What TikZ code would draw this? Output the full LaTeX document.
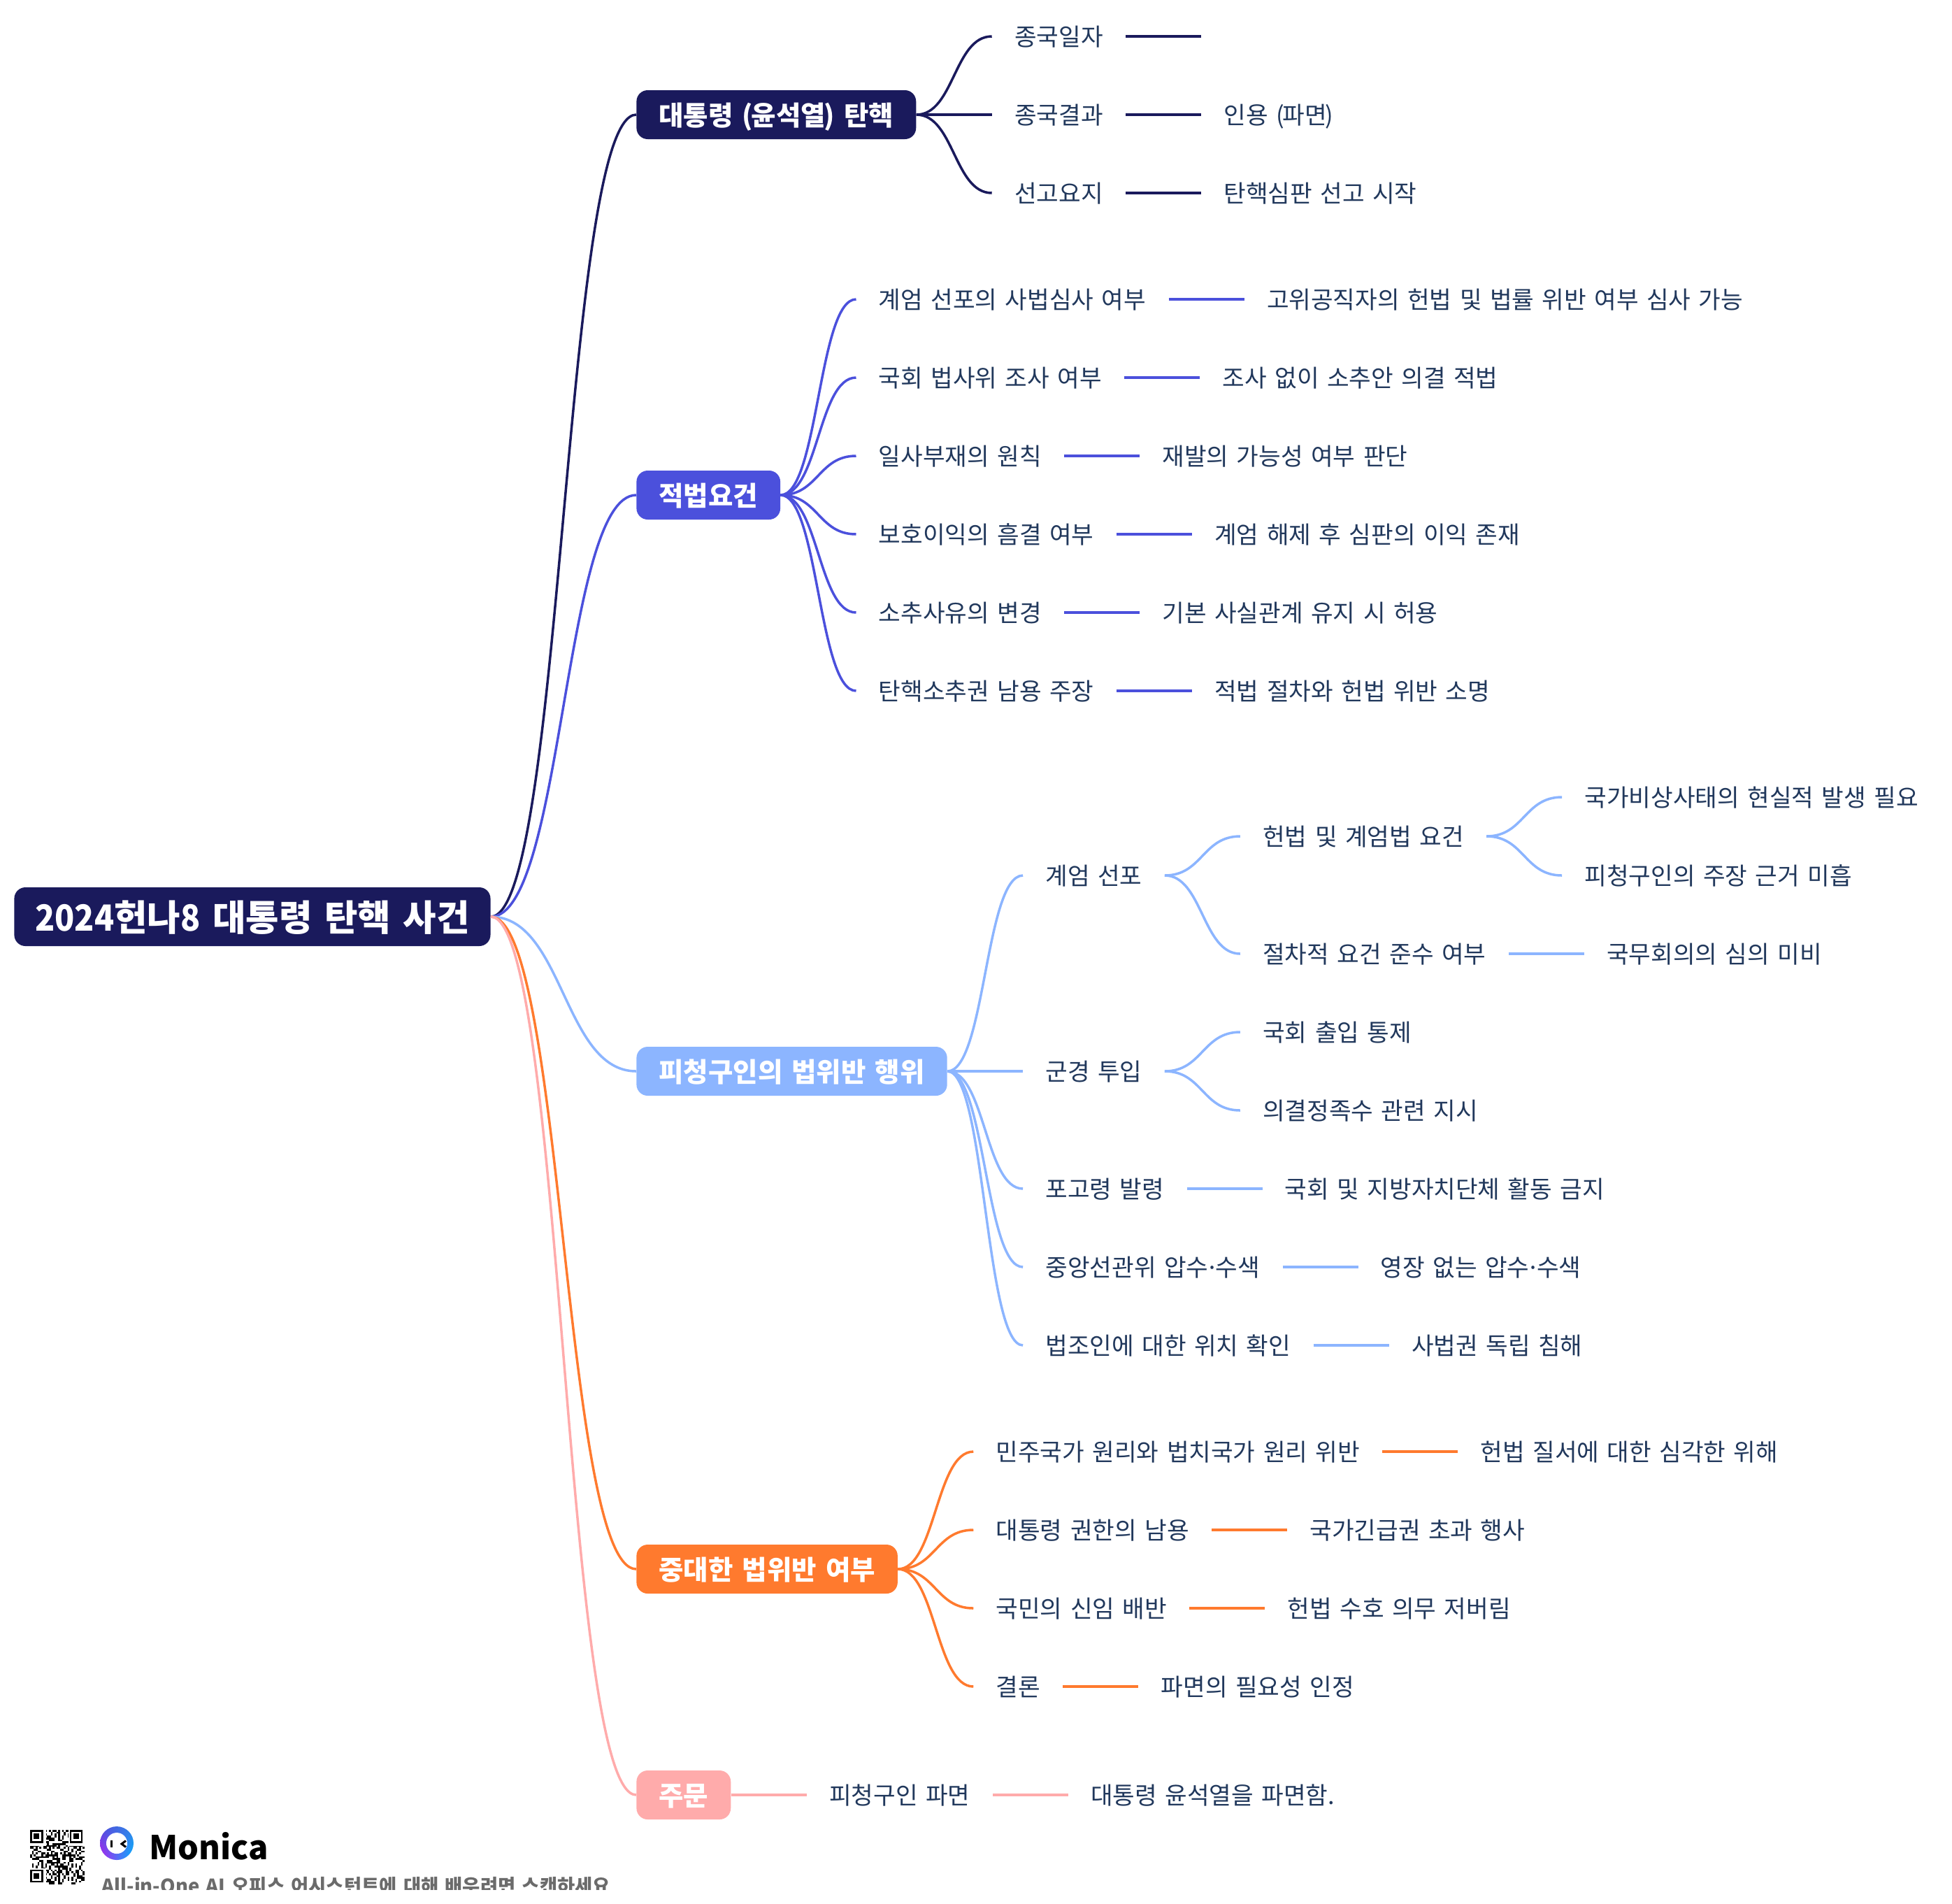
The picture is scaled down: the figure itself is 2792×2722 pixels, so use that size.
\documentclass[tikz,border=0pt]{standalone}
\usepackage{fontspec}
\setmainfont{Noto Sans CJK KR}[WordSpace=1.48]
\usetikzlibrary{calc,positioning,shadings}

\definecolor{navybranch}{HTML}{1A1A5C}
\definecolor{indigobranch}{HTML}{4B50DC}
\definecolor{bluebranch}{HTML}{8CB5FF}
\definecolor{orangebranch}{HTML}{FF7A2E}
\definecolor{pinkbranch}{HTML}{FFABAB}
\definecolor{itemtext}{HTML}{21385C}

% one px of the reference is 0.5pt here
\tikzset{
  rootnode/.style={anchor=west, fill=navybranch, text=white, rounded corners=8pt, font=\fontsize{25.8}{30}\selectfont\bfseries,
    inner xsep=15pt, inner ysep=0pt, minimum height=42pt, text height=23.8pt, text depth=3pt},
  topicnode/.style={anchor=west, fill=#1, text=white, rounded corners=8pt, font=\fontsize{19.25}{23}\selectfont\bfseries,
    inner xsep=16pt, inner ysep=0pt, minimum height=35pt, text height=17.3pt, text depth=2.2pt},
  itemnode/.style={text=itemtext, font=\fontsize{17.2}{20}\selectfont, inner xsep=16pt, inner ysep=0pt,
    text height=15.9pt, text depth=2pt},
  link/.style={line width=1.75pt}
}
\newcommand{\branch}[3]{%
  \coordinate (mid) at ($(#1.east)!.5!(#2.west)$);
  \draw[link,#3] (#1.east) .. controls (mid |- #1.east) and (mid |- #2.west) .. (#2.west);
}
\newcommand{\tightdot}{\kern-.13em·\kern-.13em}
\newcommand{\slimdigits}[1]{\scalebox{.9}[1]{#1}}
\newcommand{\tightparen}[1]{(\kern-1.1pt #1\kern-1.1pt)}

\begin{document}
\begin{tikzpicture}[x=0.5pt, y=-0.5pt, node distance=54pt]
  \useasboundingbox (0,0) rectangle (2792,2722);

  % Root and main topics
  \node[rootnode] (root) at (20,1311) {\slimdigits{2024}헌나\slimdigits{8} 대통령 탄핵 사건};
  \node[topicnode=navybranch]   (impeach) at (910,164)  {대통령 \tightparen{윤석열} 탄핵};
  \node[topicnode=indigobranch] (legal)   at (910,708)  {적법요건};
  \node[topicnode=bluebranch]   (breach)  at (910,1532) {피청구인의 법위반 행위};
  \node[topicnode=orangebranch] (grave)   at (910,2244) {중대한 법위반 여부};
  \node[topicnode=pinkbranch]   (order)   at (910,2567) {주문};

  % Impeachment
  \node[itemnode, right=of impeach, yshift=56pt]  (date)   {종국일자};
  \node[itemnode, right=of impeach]               (result) {종국결과};
  \node[itemnode, right=of impeach, yshift=-56pt] (gist)   {선고요지};
  \coordinate[right=of date] (dateend);
  \node[itemnode, right=of result] (resultA) {인용 \tightparen{파면}};
  \node[itemnode, right=of gist]   (gistA)   {탄핵심판 선고 시작};

  % Legal requirements
  \node[itemnode, right=of legal, yshift=140pt]  (lawA) {계엄 선포의 사법심사 여부};
  \node[itemnode, right=of legal, yshift=84pt]   (lawB) {국회 법사위 조사 여부};
  \node[itemnode, right=of legal, yshift=28pt]   (lawC) {일사부재의 원칙};
  \node[itemnode, right=of legal, yshift=-28pt]  (lawD) {보호이익의 흠결 여부};
  \node[itemnode, right=of legal, yshift=-84pt]  (lawE) {소추사유의 변경};
  \node[itemnode, right=of legal, yshift=-140pt] (lawF) {탄핵소추권 남용 주장};
  \node[itemnode, right=of lawA] (lawAa) {고위공직자의 헌법 및 법률 위반 여부 심사 가능};
  \node[itemnode, right=of lawB] (lawBa) {조사 없이 소추안 의결 적법};
  \node[itemnode, right=of lawC] (lawCa) {재발의 가능성 여부 판단};
  \node[itemnode, right=of lawD] (lawDa) {계엄 해제 후 심판의 이익 존재};
  \node[itemnode, right=of lawE] (lawEa) {기본 사실관계 유지 시 허용};
  \node[itemnode, right=of lawF] (lawFa) {적법 절차와 헌법 위반 소명};

  % Violations
  \node[itemnode, right=of breach, yshift=140pt]  (martial) {계엄 선포};
  \node[itemnode, right=of breach]                (troops)  {군경 투입};
  \node[itemnode, right=of breach, yshift=-84pt]  (decree)  {포고령 발령};
  \node[itemnode, right=of breach, yshift=-140pt] (search)  {중앙선관위 압수\tightdot 수색};
  \node[itemnode, right=of breach, yshift=-196pt] (judges)  {법조인에 대한 위치 확인};
  \node[itemnode, right=of martial, yshift=28pt]  (reqs)    {헌법 및 계엄법 요건};
  \node[itemnode, right=of martial, yshift=-56pt] (proc)    {절차적 요건 준수 여부};
  \node[itemnode, right=of reqs, yshift=28pt]     (reqsA)   {국가비상사태의 현실적 발생 필요};
  \node[itemnode, right=of reqs, yshift=-28pt]    (reqsB)   {피청구인의 주장 근거 미흡};
  \node[itemnode, right=of proc]                  (procA)   {국무회의의 심의 미비};
  \node[itemnode, right=of troops, yshift=28pt]   (troopsA) {국회 출입 통제};
  \node[itemnode, right=of troops, yshift=-28pt]  (troopsB) {의결정족수 관련 지시};
  \node[itemnode, right=of decree] (decreeA) {국회 및 지방자치단체 활동 금지};
  \node[itemnode, right=of search] (searchA) {영장 없는 압수\tightdot 수색};
  \node[itemnode, right=of judges] (judgesA) {사법권 독립 침해};

  % Gravity
  \node[itemnode, right=of grave, yshift=84pt]  (gravA) {민주국가 원리와 법치국가 원리 위반};
  \node[itemnode, right=of grave, yshift=28pt]  (gravB) {대통령 권한의 남용};
  \node[itemnode, right=of grave, yshift=-28pt] (gravC) {국민의 신임 배반};
  \node[itemnode, right=of grave, yshift=-84pt] (gravD) {결론};
  \node[itemnode, right=of gravA] (gravAa) {헌법 질서에 대한 심각한 위해};
  \node[itemnode, right=of gravB] (gravBa) {국가긴급권 초과 행사};
  \node[itemnode, right=of gravC] (gravCa) {헌법 수호 의무 저버림};
  \node[itemnode, right=of gravD] (gravDa) {파면의 필요성 인정};

  % Order
  \node[itemnode, right=of order]  (orderA)  {피청구인 파면};
  \node[itemnode, right=of orderA] (orderAa) {대통령 윤석열을 파면함.};

  % Curved edges
  \foreach \from/\to/\col in {root/impeach/navybranch, root/legal/indigobranch, root/breach/bluebranch,
      root/grave/orangebranch, root/order/pinkbranch,
      impeach/date/navybranch, impeach/result/navybranch, impeach/gist/navybranch,
      legal/lawA/indigobranch, legal/lawB/indigobranch, legal/lawC/indigobranch,
      legal/lawD/indigobranch, legal/lawE/indigobranch, legal/lawF/indigobranch,
      breach/martial/bluebranch, breach/troops/bluebranch, breach/decree/bluebranch,
      breach/search/bluebranch, breach/judges/bluebranch,
      martial/reqs/bluebranch, martial/proc/bluebranch, reqs/reqsA/bluebranch, reqs/reqsB/bluebranch,
      troops/troopsA/bluebranch, troops/troopsB/bluebranch,
      grave/gravA/orangebranch, grave/gravB/orangebranch, grave/gravC/orangebranch, grave/gravD/orangebranch}
    {\branch{\from}{\to}{\col}}

  % Straight edges
  \foreach \from/\to/\col in {result/resultA/navybranch, gist/gistA/navybranch,
      lawA/lawAa/indigobranch, lawB/lawBa/indigobranch, lawC/lawCa/indigobranch,
      lawD/lawDa/indigobranch, lawE/lawEa/indigobranch, lawF/lawFa/indigobranch,
      proc/procA/bluebranch, decree/decreeA/bluebranch, search/searchA/bluebranch, judges/judgesA/bluebranch,
      gravA/gravAa/orangebranch, gravB/gravBa/orangebranch, gravC/gravCa/orangebranch, gravD/gravDa/orangebranch,
      order/orderA/pinkbranch, orderA/orderAa/pinkbranch}
    {\draw[link,\col] (\from.east) -- (\to.west);}
  \draw[link,navybranch] (date.east) -- (dateend);

  % Footer: QR code
  \foreach \i in {0,...,28} \foreach \j in {0,...,28} {
    \pgfmathparse{int(mod(\i*\i*5+\j*\j*7+\i*\j*3+\i*13+\j*17,23)<12)}
    \ifnum\pgfmathresult=1
      \fill (43+\i*2.69,2617+\j*2.69) rectangle ++(2.69,2.69);
    \fi
  }
  \foreach \cx/\cy in {43/2617, 99.5/2617, 43/2673.5} {
    \fill[white] (\cx-2,\cy-2) rectangle ++(25,25);
    \fill (\cx,\cy) rectangle ++(18.8,18.8);
    \fill[white] (\cx+2.7,\cy+2.7) rectangle ++(13.4,13.4);
    \fill (\cx+5.4,\cy+5.4) rectangle ++(8,8);
  }

  % Footer: logo
  \shade[upper left=indigobranch, upper right=indigobranch!70!cyan, lower left=magenta!60!indigobranch, lower right=cyan!70!blue]
    (167,2636) circle (12pt);
  \fill[white] (167,2636) circle (7.5pt);
  \fill[black] (158,2632) rectangle (161,2641.5);
  \draw[black, line width=1.5pt] (180,2632.5) -- (174,2637) -- (180,2641.5);
  \node[anchor=west, inner sep=0pt, font=\fontsize{23.5}{28}\selectfont\bfseries] (brand) at (213,2640) {Monica};
  \begin{scope}
    \clip (0,2660) rectangle (2792,2702);
    \node[anchor=base west, inner sep=0pt, text=black!58, font=\fontsize{13.7}{17}\selectfont\bfseries] (tagline) at (145,2707)
      {All-in-One AI 오피스 어시스턴트에 대해 배우려면 스캔하세요};
  \end{scope}
\end{tikzpicture}
\end{document}
